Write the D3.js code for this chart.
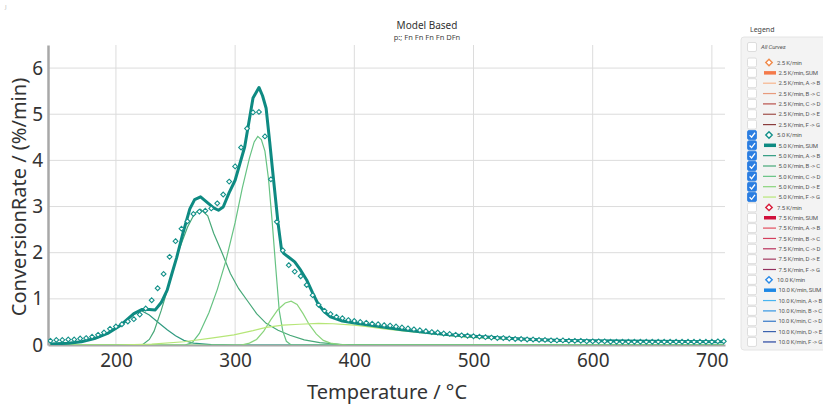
<!DOCTYPE html>
<html>
<head>
<meta charset="utf-8">
<script src="https://cdn.jsdelivr.net/npm/d3@7"></script>
<style>
  body { margin: 0; background: #fff; font-family: "Noto Sans", "Open Sans", sans-serif; }
</style>
</head>
<body>
<div id="chart"></div>
<script>
/* CONSTANTS AND GLOBALS */
const width = 823,
  height = 405,
  margin = ({top: 45, right: 98, bottom: 60, left: 48});

const yTicks = [0, 1, 2, 3, 4, 5, 6];
const xTicks = [200, 300, 400, 500, 600, 700];

// measured points, 5.0 K/min  [temperature, rate]
const measured5 = [
  [145,0.09],[150,0.11],[155,0.11],[160,0.12],[165,0.12],[170,0.14],[175,0.15],[180,0.18],[185,0.22],[190,0.27],
  [195,0.35],[200,0.40],[205,0.45],[210,0.51],[215,0.56],[220,0.66],[225,0.79],[230,0.97],[235,1.23],[240,1.54],
  [245,1.91],[250,2.25],[255,2.52],[260,2.68],[265,2.84],[270,2.89],[275,2.91],[280,2.96],[285,3.07],[290,3.26],
  [295,3.54],[300,3.87],[305,4.28],[310,4.69],[315,5.04],[320,5.05],[325,4.52],[330,3.59],[335,2.67],[340,2.05],
  [345,1.73],[350,1.59],[355,1.49],[360,1.30],[365,1.08],[370,0.87],[375,0.74],[380,0.67],[385,0.61],[390,0.58],
  [395,0.54],[400,0.52],[405,0.50],[410,0.48],[415,0.46],[420,0.45],[425,0.43],[430,0.42],[435,0.40],[440,0.38],
  [445,0.36],[450,0.34],[455,0.32],[460,0.30],[465,0.28],[470,0.27],[475,0.25],[480,0.24],[485,0.22],[490,0.21],
  [495,0.20],[500,0.19],[505,0.18],[510,0.17],[515,0.16],[520,0.15],[525,0.15],[530,0.14],[535,0.13],[540,0.13],
  [545,0.12],[550,0.12],[555,0.11],[560,0.11],[565,0.10],[570,0.10],[575,0.10],[580,0.09],[585,0.09],[590,0.09],
  [595,0.08],[600,0.08],[605,0.08],[610,0.08],[615,0.07],[620,0.07],[625,0.07],[630,0.07],[635,0.07],[640,0.07],
  [645,0.07],[650,0.07],[655,0.07],[660,0.07],[665,0.07],[670,0.07],[675,0.07],[680,0.07],[685,0.07],[690,0.07],
  [695,0.07],[700,0.07],[705,0.08],[710,0.08]
];

// model curves, 5.0 K/min
const sum5 = [
  [145,0.02],[160,0.04],[171,0.07],[182,0.14],[193,0.25],[204,0.43],[215,0.68],[222,0.77],[228,0.77],[233,0.76],
  [238,0.92],[243,1.19],[247,1.55],[251,1.9],[256,2.4],[262,2.95],[266,3.15],[271,3.21],[276,3.1],[282,2.97],
  [286,2.92],[290,2.99],[295,3.3],[300,3.57],[308,4.29],[315,5.35],[320,5.58],[323,5.4],[326,5.13],[329,4.4],
  [332,3.64],[336,2.64],[339,2.05],[341,1.98],[345,1.9],[350,1.8],[355,1.62],[360,1.41],[365,1.13],[370,0.87],
  [375,0.72],[380,0.61],[390,0.52],[399,0.48],[421,0.40],[440,0.33],[461,0.27],[480,0.22],[500,0.19],[525,0.15],
  [550,0.12],[575,0.10],[600,0.09],[650,0.08],[710,0.07]
];
const stepAB5 = [
  [145,0.02],[171,0.07],[185,0.16],[193,0.25],[204,0.43],[215,0.66],[221,0.75],[228,0.65],[235,0.5],[243,0.33],
  [250,0.2],[257,0.1],[265,0.04],[280,0.01],[300,0],[710,0]
];
const stepBC5 = [
  [145,0],[222,0],[228,0.12],[232,0.3],[238,0.75],[245,1.35],[252,2.0],[260,2.55],[266,2.85],[271,2.94],
  [277,2.8],[282,2.42],[289,2.0],[296,1.55],[303,1.22],[310,0.97],[318,0.68],[326,0.47],[336,0.32],[346,0.21],
  [358,0.11],[371,0.05],[390,0.01],[420,0],[710,0]
];
const stepCD5 = [
  [145,0],[258,0],[264,0.05],[270,0.25],[278,0.7],[285,1.2],[292,1.8],[300,2.65],[306,3.4],[312,4.05],
  [316,4.4],[319,4.52],[322,4.45],[325,4.2],[328,3.6],[331,2.7],[334,1.7],[337,0.75],[340,0.3],[343,0.08],
  [347,0],[710,0]
];
const stepDE5 = [
  [145,0],[305,0],[312,0.04],[318,0.12],[324,0.3],[330,0.55],[336,0.77],[342,0.91],[347,0.95],[352,0.88],
  [357,0.68],[362,0.45],[368,0.24],[374,0.1],[380,0.04],[388,0.01],[395,0],[710,0]
];
const stepFG5 = [
  [145,0],[200,0],[230,0.02],[257,0.07],[280,0.15],[299,0.22],[315,0.31],[326,0.38],[340,0.43],[354,0.45],
  [370,0.47],[382,0.46],[400,0.43],[411,0.40],[425,0.35],[439,0.31],[466,0.24],[494,0.17],[522,0.13],[550,0.11],
  [600,0.09],[650,0.075],[710,0.065]
];

// legend
const rates = ["2.5", "5.0", "7.5", "10.0"];
const steps = ["SUM", "A -> B", "B -> C", "C -> D", "D -> E", "F -> G"];
const checkedRate = "5.0";
const rateColors = {
  "2.5":  ["#f08a4b", "#f47a4a", "#f7b48c", "#e89a7c", "#b8504a", "#a0504a", "#8a3c3c"],
  "5.0":  ["#14918a", "#0e8a82", "#2f9a80", "#47a878", "#66c283", "#8ad47c", "#b6e678"],
  "7.5":  ["#d81e3c", "#d0103a", "#e24e5e", "#d43e5c", "#b8305a", "#a43a60", "#93305e"],
  "10.0": ["#2a8ae6", "#1e88e5", "#48b4f0", "#3496e2", "#3478c8", "#3a62ae", "#2644a0"]
};

let svg, x, y;

init();

function init() {
  x = d3.scaleLinear()
    .domain([143, 711])
    .range([margin.left, width - margin.right]);

  y = d3.scaleLinear()
    .domain([0, 6.5])
    .range([height - margin.bottom, margin.top]);

  svg = d3.select("#chart")
    .append("svg")
    .attr("width", width)
    .attr("height", height)
    .style("font-family", "'Noto Sans', 'Open Sans', sans-serif");

  svg.append("text")
    .attr("x", 5).attr("y", 9)
    .attr("font-size", 6).attr("fill", "#bbb")
    .text("J");

  // grid
  svg.append("g")
    .selectAll("line")
    .data(yTicks.filter(d => d > 0))
    .join("line")
    .attr("x1", margin.left).attr("x2", width - margin.right)
    .attr("y1", d => y(d)).attr("y2", d => y(d))
    .attr("stroke", "#dcdcdc");
  svg.append("g")
    .selectAll("line")
    .data(xTicks)
    .join("line")
    .attr("x1", d => x(d)).attr("x2", d => x(d))
    .attr("y1", margin.top).attr("y2", height - margin.bottom)
    .attr("stroke", "#dcdcdc");

  // axes
  const yAxis = d3.axisLeft(y).tickValues(yTicks).tickFormat(d3.format("d")).tickSize(0).tickPadding(5);
  const xAxis = d3.axisBottom(x).tickValues(xTicks).tickFormat(d3.format("d")).tickSize(0).tickPadding(9);

  svg.append("g")
    .attr("transform", `translate(${margin.left},0)`)
    .call(yAxis)
    .call(g => g.select(".domain").attr("stroke", "#a8a8a8").attr("stroke-width", 2.5))
    .call(g => g.selectAll("text").attr("font-size", 19).attr("fill", "#333")
      .attr("font-family", "'Noto Sans', sans-serif"));

  svg.append("g")
    .attr("transform", `translate(0,${height - margin.bottom})`)
    .call(xAxis)
    .call(g => g.select(".domain").attr("stroke", "#a8a8a8").attr("stroke-width", 2))
    .call(g => g.selectAll("text").attr("font-size", 19).attr("fill", "#333")
      .attr("font-family", "'Noto Sans', sans-serif"));

  svg.append("text")
    .attr("transform", `translate(26,${(margin.top + height - margin.bottom) / 2 + 2}) rotate(-90)`)
    .attr("text-anchor", "middle")
    .attr("font-size", 20).attr("fill", "#333")
    .text("ConversionRate / (%/min)");

  svg.append("text")
    .attr("x", 387).attr("y", 399)
    .attr("text-anchor", "middle")
    .attr("font-size", 20).attr("fill", "#333")
    .text("Temperature / °C");

  svg.append("text")
    .attr("x", 427).attr("y", 29)
    .attr("text-anchor", "middle")
    .attr("font-size", 10).attr("fill", "#333")
    .text("Model Based");
  svg.append("text")
    .attr("x", 427).attr("y", 40)
    .attr("text-anchor", "middle")
    .attr("font-size", 7.5).attr("fill", "#444")
    .text("p:; Fn Fn Fn Fn DFn");

  draw();
  drawLegend();
}

function draw() {
  svg.append("clipPath").attr("id", "plot-clip")
    .append("rect")
    .attr("x", margin.left).attr("y", margin.top - 5)
    .attr("width", width - margin.right - margin.left + 2)
    .attr("height", height - margin.bottom - margin.top + 5);

  const plot = svg.append("g").attr("clip-path", "url(#plot-clip)");
  const line = d3.line().x(d => x(d[0])).y(d => y(d[1]));
  const cols = rateColors[checkedRate];

  const comps = [stepAB5, stepBC5, stepCD5, stepDE5, stepFG5];
  plot.selectAll("path.comp")
    .data(comps)
    .join("path")
    .attr("class", "comp")
    .attr("d", line)
    .attr("fill", "none")
    .attr("stroke", (d, i) => cols[i + 2])
    .attr("stroke-width", 1.2);

  plot.append("path")
    .attr("d", line(sum5))
    .attr("fill", "none")
    .attr("stroke", cols[1])
    .attr("stroke-width", 3)
    .attr("stroke-linejoin", "round");

  plot.selectAll("path.marker")
    .data(measured5)
    .join("path")
    .attr("class", "marker")
    .attr("transform", d => `translate(${x(d[0])},${y(d[1])})`)
    .attr("d", "M0,-2.4L2.4,0L0,2.4L-2.4,0Z")
    .attr("fill", "#fff")
    .attr("stroke", cols[0])
    .attr("stroke-width", 1.1);
}

function drawLegend() {
  const lg = svg.append("g");
  lg.append("text")
    .attr("x", 750).attr("y", 32)
    .attr("font-size", 7).attr("fill", "#444")
    .text("Legend");
  lg.append("rect")
    .attr("x", 741).attr("y", 37)
    .attr("width", 90).attr("height", 313)
    .attr("rx", 3)
    .attr("fill", "#f3f3f3")
    .attr("stroke", "#e4e4e4");

  const rows = [{label: "All Curves", kind: "all", checked: false, color: null}];
  rates.forEach(r => {
    rows.push({label: `${r} K/min`, kind: "marker", checked: r === checkedRate, color: rateColors[r][0]});
    steps.forEach((s, i) => {
      rows.push({label: `${r} K/min, ${s}`, kind: i === 0 ? "sum" : "line",
        checked: r === checkedRate, color: rateColors[r][i + 1]});
    });
  });

  const rowY = (d, i) => i === 0 ? 47 : 62.5 + (i - 1) * 10.35;

  const item = lg.selectAll("g.item")
    .data(rows)
    .join("g")
    .attr("class", "item")
    .attr("transform", (d, i) => `translate(0,${rowY(d, i)})`);

  item.append("rect")
    .attr("x", 747.5).attr("y", -4.5)
    .attr("width", 9).attr("height", 9)
    .attr("rx", 1.5)
    .attr("fill", d => d.checked ? "#2a7de1" : "#fff")
    .attr("stroke", d => d.checked ? "#2a7de1" : "#d6d6d6")
    .attr("stroke-width", 0.8);

  item.filter(d => d.checked)
    .append("path")
    .attr("d", "M749.6,0.2L751.6,2.3L755,-2.2")
    .attr("fill", "none")
    .attr("stroke", "#fff")
    .attr("stroke-width", 1.3);

  item.filter(d => d.kind === "marker")
    .append("path")
    .attr("transform", "translate(769,0)")
    .attr("d", "M0,-3.2L3.2,0L0,3.2L-3.2,0Z")
    .attr("fill", "#fff")
    .attr("stroke", d => d.color)
    .attr("stroke-width", 1.4);

  item.filter(d => d.kind === "sum")
    .append("line")
    .attr("x1", 764).attr("x2", 776)
    .attr("stroke", d => d.color)
    .attr("stroke-width", 3.5);

  item.filter(d => d.kind === "line")
    .append("line")
    .attr("x1", 763).attr("x2", 776)
    .attr("stroke", d => d.color)
    .attr("stroke-width", 1.2);

  // labels squeezed to the panel width, as the narrow reference panel shows them
  item.append("text")
    .attr("x", d => d.kind === "all" ? 761 : (d.kind === "marker" ? 777 : 778.5))
    .attr("y", 2.2)
    .attr("font-size", 6)
    .attr("font-family", "Roboto, sans-serif")
    .attr("letter-spacing", -0.15)
    .attr("font-style", d => d.kind === "all" ? "italic" : "normal")
    .attr("fill", "#555")
    .text(d => d.label)
    .each(function(d) {
      const avail = 822 - (+this.getAttribute("x"));
      const w = this.getComputedTextLength();
      if (w > avail) {
        d3.select(this).attr("textLength", avail).attr("lengthAdjust", "spacingAndGlyphs");
      }
    });
}
</script>
</body>
</html>
